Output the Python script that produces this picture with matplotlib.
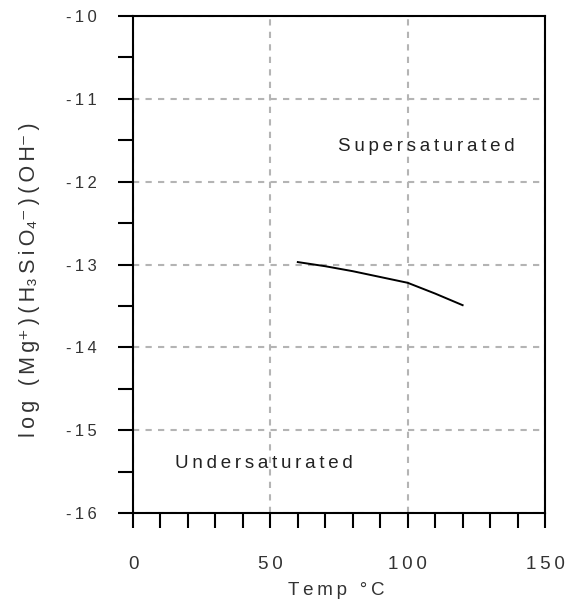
import numpy as np
import matplotlib.pyplot as plt
from matplotlib.ticker import MultipleLocator, FuncFormatter

plt.rcParams['font.family'] = ['Liberation Sans', 'DejaVu Sans']
plt.rcParams['axes.unicode_minus'] = False

# data
temp = [60, 70, 80, 90, 100, 110, 120]
log_iap = [-12.97, -13.02, -13.08, -13.15, -13.22, -13.35, -13.49]

FS = 13.5
TXT = '#333333'
SUPSUB = '\u207a\u207b\u2083\u2084'


def spaced(s):
    # the original chart uses wide letter spacing
    out = ''
    for i, ch in enumerate(s):
        if i > 0 and ch not in SUPSUB:
            out += '\u2009'
        out += ch
    return out


fig = plt.figure(figsize=(5.67, 6.03), dpi=100)
ax = fig.add_axes([0.2346, 0.149, 0.7266, 0.8245])

ax.plot(temp, log_iap, color='black', lw=1.4)

ax.set_xlim(0, 150)
ax.set_ylim(-16, -10)
ax.xaxis.set_major_locator(MultipleLocator(50))
ax.xaxis.set_minor_locator(MultipleLocator(10))
ax.yaxis.set_major_locator(MultipleLocator(1))
ax.yaxis.set_minor_locator(MultipleLocator(0.5))
ax.xaxis.set_major_formatter(FuncFormatter(lambda v, p: spaced('%d' % v)))
ax.yaxis.set_major_formatter(FuncFormatter(lambda v, p: spaced('%d' % v)))
ax.tick_params(which='both', direction='out', length=11, width=1.5, color='black',
               labelcolor=TXT)
ax.tick_params(axis='x', which='major', pad=20, labelsize=FS)
ax.tick_params(axis='y', which='major', pad=15, labelsize=12)
for s in ax.spines.values():
    s.set_linewidth(1.5)
ax.grid(True, which='major', color='#b4b4b4', linestyle=(0, (3, 3)), lw=1.5)

ax.text(74.8, -11.58, spaced('Supersaturated'), ha='left', va='center', fontsize=FS, color='#222222')
ax.text(15.3, -15.40, spaced('Undersaturated'), ha='left', va='center', fontsize=FS, color='#222222')

ax.set_xlabel(spaced('Temp °C'), fontsize=FS, color=TXT, va='center')
ax.xaxis.set_label_coords(0.493, -0.155)
ax.set_ylabel(spaced('log (Mg\u207a)(H\u2083SiO\u2084\u207b)(OH\u207b)'), fontsize=15.5, color=TXT, va='center')
ax.yaxis.set_label_coords(-0.252, 0.469)

fig.savefig('out.png', dpi=100)
